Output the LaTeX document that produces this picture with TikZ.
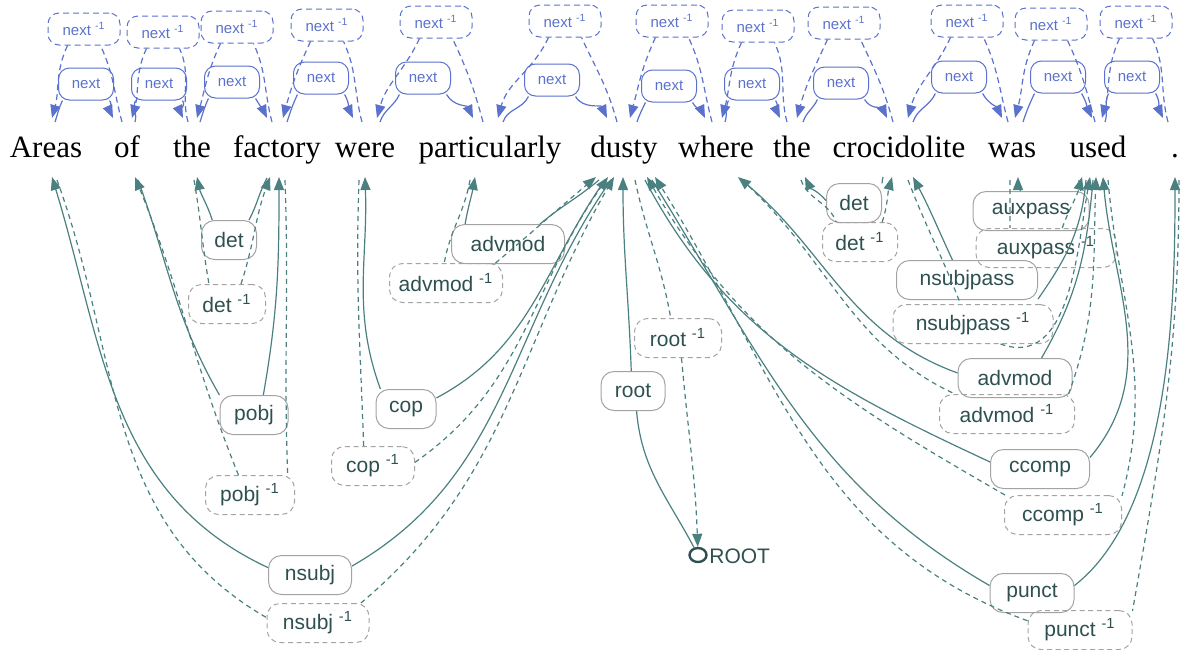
\documentclass[tikz,border=0pt]{standalone}
\usepackage{fontspec}
\setmainfont{Liberation Serif}
\newfontfamily\labelsans{Liberation Sans}
\usetikzlibrary{arrows.meta,shapes.geometric}

\definecolor{nextblue}{HTML}{5A72CD}
\definecolor{edgeteal}{HTML}{4B8080}
\definecolor{labtext}{HTML}{2E5050}
\definecolor{boxgray}{HTML}{A3A3A3}

\newcommand\invmark{~\textsuperscript{-1}}

\begin{document}
\begin{tikzpicture}[x=0.5pt,y=0.5pt,
  word/.style={anchor=base, inner sep=0pt, font=\fontsize{15.5}{18}\selectfont},
  deplab/.style={draw=boxgray, line width=0.5pt, rounded corners=6.5pt,
    minimum height=19.5pt, inner sep=0pt, text=labtext,
    font=\labelsans\fontsize{10.5}{12}\selectfont},
  depinv/.style={deplab, dash pattern=on 2.5pt off 1.8pt},
  nxlab/.style={draw=nextblue, line width=0.5pt, rounded corners=5.5pt,
    minimum width=27.5pt, minimum height=16pt, inner sep=0pt, text=nextblue,
    font=\labelsans\fontsize{7.5}{9}\selectfont},
  nxinv/.style={nxlab, dash pattern=on 3pt off 2pt, minimum width=36pt},
  nxline/.style={draw=nextblue, line width=0.6pt},
  nxback/.style={nxline, dash pattern=on 3pt off 2pt},
  depline/.style={draw=edgeteal, line width=0.6pt},
  depback/.style={depline, dash pattern=on 2.5pt off 2pt},
  headtip/.style={-{Triangle[length=6.5pt,width=5pt]}},
]
\useasboundingbox (0,0) rectangle (1183,-649);

% the sentence
\node[word] (w1)  at (46,-157)   {Areas};
\node[word] (w2)  at (127,-157)  {of};
\node[word] (w3)  at (192,-157)  {the};
\node[word] (w4)  at (277,-157)  {factory};
\node[word] (w5)  at (365,-157)  {were};
\node[word] (w6)  at (490,-157)  {particularly};
\node[word] (w7)  at (624,-157)  {dusty};
\node[word] (w8)  at (716,-157)  {where};
\node[word] (w9)  at (792,-157)  {the};
\node[word] (w10) at (899,-157)  {crocidolite};
\node[word] (w11) at (1012,-157) {was};
\node[word] (w12) at (1098,-157) {used};
\node[word] (w13) at (1175,-157) {.};

% next / next^-1 links between neighbouring words
\foreach \k/\ax/\bx/\cx/\ddx/\px/\py/\qx/\qy in {
  1/55/113/122/52/86/84/84/29,
  2/135/183/188/132/159/84/163/32,
  3/200/267/272/197/232/82/237/27,
  4/287/353/362/283/321/78/327/25,
  5/380/473/483/377/423/78/436/22,
  6/503/607/617/498/552/80/565/21,
  7/637/705/712/630/669/86/672/21,
  8/725/780/787/722/752/84/758/26,
  9/803/887/893/797/841/83/844/23,
  10/913/1002/1008/908/959/77/967/21,
  11/1023/1092/1095/1015/1058/77/1051/24,
  12/1105/1163/1168/1102/1132/77/1136/22}{
  \node[nxlab] (nx\k) at (\px,-\py) {next};
  \node[nxinv] (nxi\k) at (\qx,-\qy) {next\invmark};
  \coordinate (ns\k) at (\ax,-122);
  \coordinate (na\k) at (\bx,-118);
  \coordinate (nd\k) at (\cx,-122);
  \coordinate (nb\k) at (\ddx,-118);
  \draw[nxline,headtip] (ns\k) to[out=72,in=-115] (nx\k.-145)
                        (nx\k.-35) to[out=-60,in=115] (na\k);
  \draw[nxback,headtip] (nd\k) to[out=105,in=-65] (nxi\k.-45)
                        (nxi\k.-135) to[out=-115,in=75] (nb\k);
}

% dependency labels
\foreach \nm/\x/\y/\w/\t in {
  det1/229/240/27.5/det, pobj/254/415/34/pobj, cop/406/409/30/cop,
  nsubj/310/575/41.5/nsubj, advA/508/244/56.5/advmod, root/633/391/32/root,
  det2/854/203/27.5/det, auxp/1031/211/58/auxpass, nsp/967/280/70.5/nsubjpass,
  advB/1015/378/57/advmod, ccomp/1040/469/49.5/ccomp, punct/1032/593/42/punct}
  \node[deplab, minimum width=\w pt] (\nm) at (\x,-\y) {\t};
\foreach \nm/\x/\y/\w/\t in {
  det1i/227/304/38.5/det, pobji/250/495/44.5/pobj, copi/373/466/41.5/cop,
  nsubji/318/623/51/nsubj, advAi/446/283/56.5/advmod, rooti/678/338/43.5/root,
  det2i/860/242/37.5/det, auxpi/1046/248/70/auxpass, nspi/973/324/80/nsubjpass,
  advBi/1007/414/67.5/advmod, ccompi/1063/515/58.5/ccomp, puncti/1080/630/52/punct}
  \node[depinv, minimum width=\w pt] (\nm) at (\x,-\y) {\t\invmark};

% the artificial root
\node[ellipse, draw=labtext, line width=1.2pt, minimum width=8.5pt, minimum height=7pt, inner sep=0pt] (rootc) at (698,-555) {};
\node[anchor=west, inner sep=0pt, text=labtext, font=\labelsans\fontsize{10.5}{12}\selectfont] (roottext) at (709,-556) {ROOT};

% attachment points under the words: head start, dependent tip, dependent start, head tip
\foreach \nm/\hx/\hy/\ex/\ey/\fx/\fy/\gx/\gy in {
  nsubj/611/180/52/177/57/180/614/177,
  pobj/138/180/279/177/285/180/135/177,
  det1/267/178/197/177/194/180/270/177,
  cop/605/180/365/177/359/180/608/177,
  advA/599/180/475/177/470/180/596/177,
  root/623/180/623/177/635/180/623/177,
  det2/883/177/805/177/801/180/892/177,
  auxp/1079/180/1018/177/1010/180/1082/177,
  nsp/1086/180/913/177/908/180/1090/177,
  advB/1093/180/738/177/742/180/1096/177,
  ccomp/645/180/1103/177/1108/180/647/177,
  punct/652/180/1175/177/1179/180/655/177}{
  \coordinate (\nm-hs) at (\hx,-\hy);
  \coordinate (\nm-dt) at (\ex,-\ey);
  \coordinate (\nm-ds) at (\fx,-\fy);
  \coordinate (\nm-ht) at (\gx,-\gy);
}

% dependency arcs (solid: head to dependent, dashed: inverse)
\draw[depline,headtip] (nsubj-hs) to[out=-125,in=30] (nsubj.12) (nsubj.170) to[out=155,in=-73] (nsubj-dt);
\draw[depback,headtip] (nsubj-ds) to[out=-70,in=150] (nsubji.174) (nsubji.25) to[out=40,in=-120] (nsubj-ht);

\draw[depline,headtip] (pobj-hs) to[out=-70,in=120] (pobj.150) (pobj.65) to[out=80,in=-90] (pobj-dt);
\draw[depback,headtip] (pobj-ds) to[out=-88,in=92] (pobji.28) (pobji.120) to[out=112,in=-68] (pobj-ht);

\draw[depline,headtip] (det1-hs) to[out=-118,in=62] (det1.45) (det1.130) to[out=108,in=-78] (det1-dt);
\draw[depback,headtip] (det1-ds) to[out=-80,in=100] (det1i.132) (det1i.55) to[out=72,in=-110] (det1-ht);

\draw[depline,headtip] (cop-hs) to[out=-125,in=28] (cop.20) (cop.142) to[out=110,in=-88] (cop-dt);
\draw[depback,headtip] (cop-ds) to[out=-92,in=92] (copi.115) (copi.5) to[out=35,in=-125] (cop-ht);

\draw[depline,headtip] (advA-hs) to[out=-140,in=40] (advA.32) (advA.155) to[out=80,in=-100] (advA-dt);
\draw[depback,headtip] (advA-ds) to[out=-100,in=80] (advAi.95) (advAi.22) to[out=40,in=-140] (advA-ht);

\draw[depline,headtip] (rootc) to[out=118,in=-85] (root.-80) (root.95) to[out=92,in=-90] (root-dt);
\draw[depback,headtip] (root-ds) to[out=-78,in=100] (rooti.110) (rooti.-80) to[out=-85,in=92] (rootc);

\draw[depline,headtip] (det2-hs) to[out=-115,in=70] (det2.35) (det2.175) to[out=130,in=-65] (det2-dt);
\draw[depback,headtip] (det2-ds) to[out=-70,in=110] (det2i.140) (det2i.42) to[out=72,in=-105] (det2-ht);

\draw[depline,headtip] (auxp-hs) to[out=-112,in=68] (auxp.22) (auxp.118) to[out=92,in=-90] (auxp-dt);
\draw[depback,headtip] (auxp-ds) to[out=-90,in=90] (auxpi.151) (auxpi.51) to[out=70,in=-105] (auxp-ht);

\draw[depline,headtip] (nsp-hs) to[out=-95,in=55] (nsp.-15) (nsp.126) to[out=115,in=-62] (nsp-dt);
\draw[depback,headtip] (nsp-ds) to[out=-69,in=111] (nspi.122) (nspi.-36) to[out=-20,in=-100] (nsp-ht);

\draw[depline,headtip] (advB-hs) to[out=-95,in=60] (advB.37) (advB.175) to[out=160,in=-40] (advB-dt);
\draw[depback,headtip] (advB-ds) to[out=-42,in=155] (advBi.159) (advBi.18) to[out=70,in=-92] (advB-ht);

\draw[depline,headtip] (ccomp-hs) to[out=-62,in=155] (ccomp.172) (ccomp.13) to[out=50,in=-85] (ccomp-dt);
\draw[depback,headtip] (ccomp-ds) to[out=-85,in=75] (ccompi.18) (ccompi.161) to[out=150,in=-60] (ccomp-ht);

\draw[depline,headtip] (punct-hs) to[out=-58,in=150] (punct.170) (punct.10) to[out=38,in=-90,looseness=0.75] (punct-dt);
\draw[depback,headtip] (punct-ds) to[out=-90,in=80] (puncti.20) (puncti.170) to[out=160,in=-58] (punct-ht);

\end{tikzpicture}
\end{document}
